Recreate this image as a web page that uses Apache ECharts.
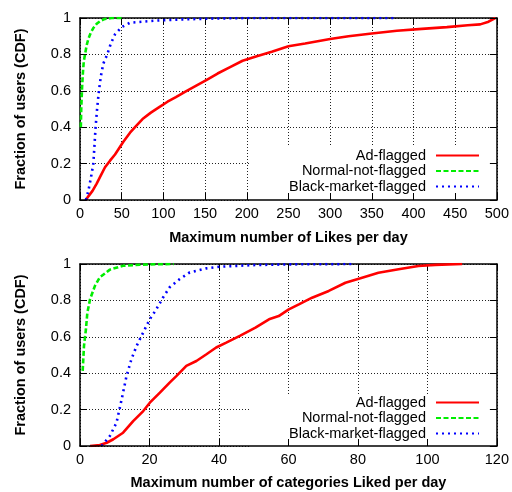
<!DOCTYPE html>
<html><head><meta charset="utf-8">
<script src="https://cdn.jsdelivr.net/npm/echarts@6/dist/echarts.min.js"></script>
<style>html,body{margin:0;padding:0;background:#fff}#c{width:512px;height:492px}</style>
</head><body><div id="c"></div>
<script>
// Top chart: Maximum number of Likes per day
const likesAdX = [7, 10, 15, 20, 25, 30, 36, 42, 52, 60, 66, 75, 85, 95, 105, 115, 128, 140, 152, 165, 180, 195, 212, 230, 250, 270, 300, 322, 350, 380, 410, 440, 465, 480, 490, 498];
const likesAdY = [0, 0.02, 0.05, 0.09, 0.135, 0.18, 0.216, 0.25, 0.32, 0.37, 0.40, 0.445, 0.48, 0.51, 0.54, 0.565, 0.6, 0.63, 0.66, 0.695, 0.73, 0.765, 0.79, 0.815, 0.845, 0.86, 0.885, 0.9, 0.915, 0.93, 0.94, 0.95, 0.96, 0.965, 0.98, 1.0];
const likesNormX = [1, 1.5, 2.5, 3.5, 4.5, 6, 8, 10, 13, 16, 20, 25, 30, 38, 45, 50];
const likesNormY = [0.4, 0.5, 0.62, 0.7, 0.76, 0.8, 0.85, 0.885, 0.92, 0.945, 0.968, 0.985, 0.995, 1.0, 1.0, 1.0];
const likesBlackX = [7, 10, 13, 16, 18.7, 20.5, 22.7, 25, 28, 32.7, 37, 42, 50, 60, 76, 92, 120, 160, 200, 376];
const likesBlackY = [0, 0.05, 0.12, 0.2, 0.4, 0.5, 0.6, 0.68, 0.75, 0.8, 0.86, 0.91, 0.95, 0.974, 0.98, 0.986, 0.992, 0.997, 1.0, 1.0];

// Bottom chart: Maximum number of categories Liked per day
const catAdX = [2.9, 5.7, 7.7, 9.6, 12.4, 15.3, 18.2, 20.1, 23, 25.8, 27.8, 30.6, 33.5, 36.4, 39.2, 42.1, 46, 50.5, 54.4, 57.2, 60.1, 63, 66.8, 71.6, 76.4, 81.2, 85.9, 91.7, 97.4, 102.2, 110];
const catAdY = [0, 0.005, 0.018, 0.037, 0.073, 0.137, 0.192, 0.238, 0.293, 0.348, 0.385, 0.44, 0.467, 0.504, 0.541, 0.568, 0.605, 0.65, 0.696, 0.714, 0.751, 0.778, 0.815, 0.852, 0.897, 0.925, 0.952, 0.971, 0.989, 0.995, 1.0];
const catNormX = [0.77, 1.15, 1.7, 2.1, 2.9, 4.3, 5.7, 8.6, 12.4, 17.2, 22, 27];
const catNormY = [0.413, 0.55, 0.64, 0.73, 0.807, 0.88, 0.927, 0.969, 0.99, 0.996, 0.999, 1.0];
const catBlackX = [6.2, 8.6, 10.5, 12, 13.4, 14.8, 16.3, 18.2, 20.1, 22, 23.9, 25.8, 28.7, 31.6, 36.4, 40.2, 49.8, 60, 79];
const catBlackY = [0, 0.055, 0.128, 0.257, 0.385, 0.477, 0.55, 0.624, 0.697, 0.752, 0.816, 0.872, 0.917, 0.954, 0.976, 0.985, 0.994, 0.998, 1.0];

const seriesNames = ['Ad-flagged', 'Normal-not-flagged', 'Black-market-flagged'];
const xTitles = ['Maximum number of Likes per day', 'Maximum number of categories Liked per day'];
const yTitle = 'Fraction of users (CDF)';

const FONT = '"Liberation Sans", Arial, Helvetica, sans-serif';
const pairs = (xs, ys) => xs.map((x, i) => [x, ys[i]]);

const styles = [
  { color: '#ff0000', width: 2.6, type: 'solid' },
  { color: '#00ee00', width: 2.6, type: [5, 2.5] },
  { color: '#0000ff', width: 2.6, type: [2, 4] }
];

const grids = [
  { left: 80, top: 18, width: 417, height: 182 },
  { left: 80, top: 264, width: 417, height: 182 }
];
const xRanges = [{ max: 500, interval: 50 }, { max: 120, interval: 20 }];

const xAxes = [], yAxes = [];
grids.forEach((g, gi) => {
  const r = xRanges[gi];
  xAxes.push({
    type: 'value', gridIndex: gi, position: 'bottom', min: 0, max: r.max, interval: r.interval, z: 3,
    name: xTitles[gi], nameLocation: 'middle', nameGap: gi === 0 ? 30 : 29,
    nameTextStyle: { fontFamily: FONT, fontSize: 14.5, fontWeight: 'bold', color: '#000' },
    axisLine: { show: true, onZero: false, lineStyle: { color: '#000', width: 1.5 } },
    axisTick: { show: true, inside: true, length: 7, lineStyle: { color: '#000', width: 1 } },
    axisLabel: { show: true, margin: 6, fontFamily: FONT, fontSize: 14.5, color: '#000' },
    splitLine: { show: false }
  });
  xAxes.push({
    type: 'value', gridIndex: gi, position: 'top', min: 0, max: r.max, interval: r.interval, z: 0,
    axisLine: { show: true, onZero: false, lineStyle: { color: '#000', width: 1.5 } },
    axisTick: { show: true, inside: true, length: 7, lineStyle: { color: '#000', width: 1 } },
    axisLabel: { show: false },
    splitLine: { show: true, lineStyle: { color: '#222', width: 1, type: [1, 2] } }
  });
  yAxes.push({
    type: 'value', gridIndex: gi, position: 'left', min: 0, max: 1, interval: 0.2, z: 0,
    name: yTitle, nameLocation: 'middle', nameGap: 52,
    nameTextStyle: { fontFamily: FONT, fontSize: 14.5, fontWeight: 'bold', color: '#000' },
    axisLine: { show: true, onZero: false, lineStyle: { color: '#000', width: 1.5 } },
    axisTick: { show: true, inside: true, length: 7, lineStyle: { color: '#000', width: 1 } },
    axisLabel: { show: true, margin: 9, fontFamily: FONT, fontSize: 14.5, color: '#000' },
    splitLine: { show: true, lineStyle: { color: '#222', width: 1, type: [1, 2] } }
  });
  yAxes.push({
    type: 'value', gridIndex: gi, position: 'right', min: 0, max: 1, interval: 0.2, z: 3,
    axisLine: { show: true, onZero: false, lineStyle: { color: '#000', width: 1.5 } },
    axisTick: { show: true, inside: true, length: 7, lineStyle: { color: '#000', width: 1 } },
    axisLabel: { show: false },
    splitLine: { show: false }
  });
});

const dataSets = [
  [pairs(likesAdX, likesAdY), pairs(likesNormX, likesNormY), pairs(likesBlackX, likesBlackY)],
  [pairs(catAdX, catAdY), pairs(catNormX, catNormY), pairs(catBlackX, catBlackY)]
];
const series = [];
dataSets.forEach((set, gi) => {
  set.forEach((d, si) => {
    series.push({
      type: 'line', name: seriesNames[si], xAxisIndex: gi * 2, yAxisIndex: gi * 2,
      data: d, symbol: 'none', showSymbol: false, smooth: false, animation: false, z: 2,
      lineStyle: { color: styles[si].color, width: styles[si].width, type: styles[si].type, cap: 'butt' },
      itemStyle: { color: styles[si].color }
    });
  });
});

const legendBase = {
  orient: 'vertical', align: 'right', right: 15, z: 1,
  itemWidth: 43, itemHeight: 14, itemGap: 0.5,
  backgroundColor: '#fff', padding: [1, 17, 8, 39],
  selectedMode: false,
  itemStyle: { opacity: 0 },
  textStyle: { fontFamily: FONT, fontSize: 14.5, color: '#000', lineHeight: 14, padding: [0, 5, 0, 0] },
  data: seriesNames
};

const chart = echarts.init(document.getElementById('c'), null, { renderer: 'canvas' });
chart.setOption({
  animation: false,
  backgroundColor: '#fff',
  grid: grids,
  xAxis: xAxes,
  yAxis: yAxes,
  legend: [Object.assign({}, legendBase, { top: 147 }), Object.assign({}, legendBase, { top: 394 })],
  series: series
});
</script></body></html>
